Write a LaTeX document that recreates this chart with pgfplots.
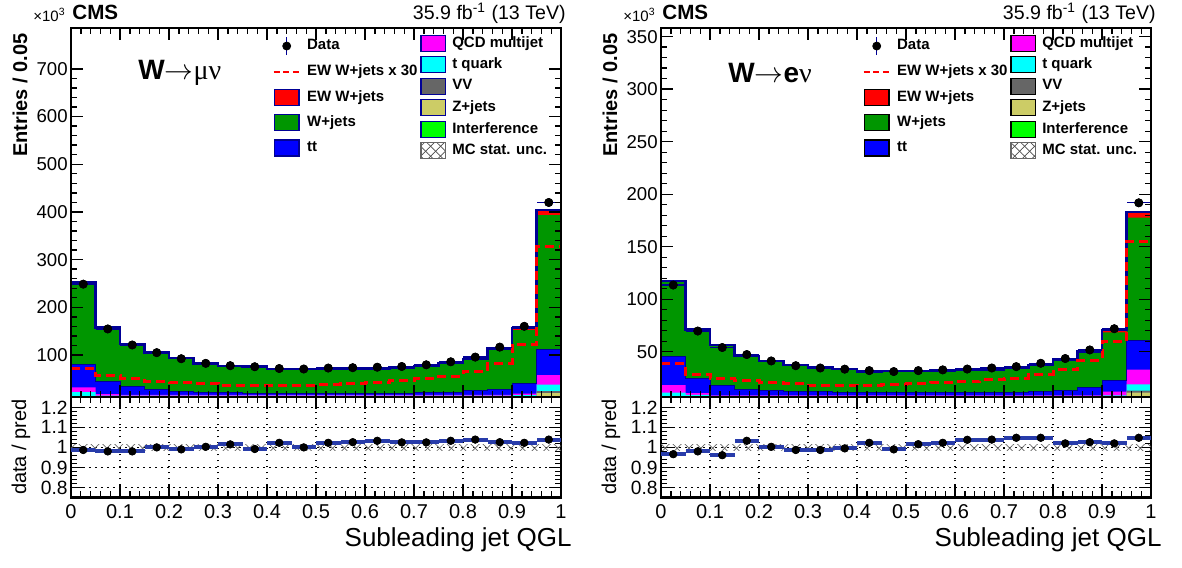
\documentclass[border=0pt]{standalone}
\usepackage{fontspec}
\setmainfont{Liberation Sans}
\newfontfamily\serifsym{Liberation Serif}
\usepackage{pgfplots}
\pgfplotsset{compat=1.18}
\usepackage{pgfplotstable}
\usetikzlibrary{patterns,patterns.meta,calc}

\definecolor{cEW}{RGB}{255,0,0}
\definecolor{cWJ}{RGB}{0,150,0}
\definecolor{cTT}{RGB}{0,0,255}
\definecolor{cQCD}{RGB}{255,0,255}
\definecolor{cTQ}{RGB}{0,255,255}
\definecolor{cVV}{RGB}{102,102,102}
\definecolor{cZJ}{RGB}{204,204,102}
\definecolor{cINT}{RGB}{0,255,0}
\definecolor{navy}{RGB}{0,0,150}
\definecolor{rblue}{RGB}{40,60,170}

% Entries per bin (x 10^3). Columns: low bin edge, Z+jets, VV, t quark, QCD multijet,
% ttbar, W+jets, EW W+jets, data, data/pred.
% The last row repeats the last bin so that the step lines close at x = 1.
\pgfplotstableread{
lo    zj   vv   tq   qcd   tt    wj     ew     data   ratio
0.00  8    2    12   10    49    168.4  2.40   248.5  0.987
0.05  6    2    7    3     26    111.9  1.88   154.6  0.980
0.10  6    2    7    1.5   17.0  88.3   1.70   121.0  0.980
0.15  6    2    7    1.5   11.5  75.4   1.46   104.9  1.000
0.20  6    2    7    1.5   6.5   68.7   1.42   92.2   0.990
0.25  6    2    7    1.5   5.0   59.5   1.35   82.5   1.003
0.30  6    2    7    1.5   4.0   54.8   1.23   77.6   1.015
0.35  6    2    7    1.5   3.5   54.8   1.23   75.4   0.992
0.40  6    2    7    1.5   3.0   49.3   1.21   71.6   1.023
0.45  6    2    7    1.5   3.0   49.9   1.23   70.6   1.000
0.50  6    2    7    1.5   3.0   50.2   1.30   72.6   1.023
0.55  6    2    7    1.5   3.0   50.7   1.35   73.4   1.026
0.60  6    2    7    1.5   3.0   51.1   1.42   74.4   1.033
0.65  6    2    7    1.5   3.5   52.4   1.58   75.9   1.025
0.70  6    2    7    1.5   4.5   54.8   1.70   79.4   1.025
0.75  6    2    7    1.5   5.5   59.2   1.81   85.7   1.033
0.80  6    2    7    1.5   10.0  63.3   2.16   95.6   1.039
0.85  6    2    7    1.5   11.5  82.8   2.75   116.5  1.026
0.90  6    2    8    3     21    112.4  4.08   160.1  1.023
0.95  20   4    14   20    54    281.1  10.9   419.8  1.039
1.00  20   4    14   20    54    281.1  10.9   419.8  1.039
}\tabMu

\pgfplotstableread{
lo    zj   vv   tq   qcd   tt    wj     ew     data   ratio
0.00  4    1.5  5.5  7.3   27.6  70.3   1.30   113.5  0.966
0.05  4    1.5  3.5  1.6   14.1  45.5   0.95   69.7   0.980
0.10  4    1.5  2.5  0.5   9.8   37.1   0.81   54.0   0.961
0.15  4    1.5  2.5  0.5   6.0   30.5   0.76   47.3   1.033
0.20  4    1.5  2.5  0.5   5.0   26.9   0.70   41.2   1.003
0.25  4    1.5  2.5  0.5   3.8   24.3   0.65   36.7   0.987
0.30  4    1.5  2.5  0.5   3.5   22.4   0.61   34.5   0.987
0.35  4    1.5  2.5  0.5   2.5   22.0   0.61   33.4   0.995
0.40  4    1.5  2.5  0.5   2.5   19.7   0.60   32.0   1.023
0.45  4    1.5  2.5  0.5   2.5   19.8   0.64   31.1   0.990
0.50  4    1.5  2.5  0.5   2.5   19.8   0.66   32.0   1.016
0.55  4    1.5  2.5  0.5   2.5   20.3   0.70   32.7   1.023
0.60  4    1.5  2.5  0.5   2.5   20.6   0.71   33.5   1.038
0.65  4    1.5  2.5  0.5   2.5   21.4   0.77   34.5   1.039
0.70  4    1.5  2.5  0.5   2.8   22.1   0.83   35.8   1.048
0.75  4    1.5  2.5  0.5   3.5   24.3   0.95   39.0   1.048
0.80  4    1.5  2.5  0.5   4.3   28.7   1.09   43.5   1.020
0.85  4    1.5  2.5  0.5   7.6   32.9   1.40   51.7   1.026
0.90  4    1.5  3.0  3.4   10.5  46.1   2.00   71.9   1.020
0.95  11   2.0  6.0  14.0  28.0  116.8  5.16   191.8  1.048
1.00  11   2.0  6.0  14.0  28.0  116.8  5.16   191.8  1.048
}\tabE

% cumulative stack heights, bottom to top
\newcommand\cumZJ{\thisrow{zj}}
\newcommand\cumVV{\cumZJ+\thisrow{vv}}
\newcommand\cumTQ{\cumVV+\thisrow{tq}}
\newcommand\cumQCD{\cumTQ+\thisrow{qcd}}
\newcommand\cumTT{\cumQCD+\thisrow{tt}}
\newcommand\cumWJ{\cumTT+\thisrow{wj}}
\newcommand\cumEW{\cumWJ+\thisrow{ew}}

\pgfplotsset{
  cmsframe/.style={
    scale only axis, xmin=0, xmax=1,
    axis line style={line width=1.1pt},
    tick align=inside, tick pos=both,
    major tick length=6pt, minor tick length=3pt,
    tick style={black, line width=0.7pt},
    xtick={0,0.1,0.2,0.3,0.4,0.5,0.6,0.7,0.8,0.9,1},
    minor x tick num=4, minor y tick num=4,
    /pgf/number format/assume math mode=true,
  },
  stackbar/.style={ybar, bar width=0.05, bar shift=0pt, draw=none, fill=#1, forget plot},
  legcol/.style={legend cell align=left,
    legend style={draw=none, fill=none, inner sep=0pt, column sep=3pt, row sep=#1,
      anchor=north west, font=\bfseries\fontsize{7.5}{9}\selectfont,
      nodes={inner sep=0pt}}},
}

% fixed-size cell for every legend symbol
\newcommand\legcell{\path[draw=none, fill=none] (0pt,-4.5pt) rectangle (13pt,4.5pt);}
% legend symbol: filled box
\newcommand\legbox[2]{\addlegendimage{legend image code/.code={%
  \legcell
  \draw[#1, draw=#2, line width=0.7pt] (0.35pt,-4pt) rectangle (12.65pt,4pt);}}}

% upper pad: {table}{left edge}{y options}{legend box edge colour}
\newcommand\toppanel[4]{%
\begin{axis}[cmsframe, axis on top, at={(#2,84.85pt)}, anchor=south west,
  width=245pt, height=184.5pt, xticklabels={},
  yticklabel style={font=\fontsize{9.3}{10}\selectfont, inner sep=1.5pt},
  legcol=3.65pt, legend style={at={(axis description cs:0.41,0.979)}}, #3]
  \addplot[stackbar=cEW]  table[x expr=\thisrow{lo}+0.025, y expr=\cumEW]{#1};
  \addplot[stackbar=cWJ]  table[x expr=\thisrow{lo}+0.025, y expr=\cumWJ]{#1};
  \addplot[stackbar=cTT]  table[x expr=\thisrow{lo}+0.025, y expr=\cumTT]{#1};
  \addplot[stackbar=cQCD] table[x expr=\thisrow{lo}+0.025, y expr=\cumQCD]{#1};
  \addplot[stackbar=cTQ]  table[x expr=\thisrow{lo}+0.025, y expr=\cumTQ]{#1};
  \addplot[stackbar=cVV]  table[x expr=\thisrow{lo}+0.025, y expr=\cumVV]{#1};
  \addplot[stackbar=cZJ]  table[x expr=\thisrow{lo}+0.025, y expr=\cumZJ]{#1};
  \addplot[const plot mark left, navy, line width=0.5pt, forget plot]
    table[x=lo, y expr=\cumTT]{#1};
  \addplot[const plot mark left, navy, line width=1.2pt, forget plot]
    table[x=lo, y expr=\cumEW]{#1};
  \addplot[const plot mark left, cEW, line width=1.5pt, dash pattern=on 4.5pt off 2.5pt, forget plot]
    table[x=lo, y expr=30*\thisrow{ew}]{#1};
  \addplot[only marks, mark=*, mark size=2pt, black, forget plot,
    skip coords between index={20}{21},
    error bars/.cd, x dir=both, x fixed=0.025, error mark=none,
    error bar style={navy, line width=0.6pt}]
    table[x expr=\thisrow{lo}+0.025, y=data]{#1};
  \addplot[only marks, mark=*, mark size=2pt, black, forget plot,
    skip coords between index={20}{21}]
    table[x expr=\thisrow{lo}+0.025, y=data]{#1};
  \addlegendimage{legend image code/.code={%
    \legcell
    \draw[navy, line width=0.6pt] (6.5pt,-4.5pt) -- (6.5pt,4.5pt);
    \fill[black] (6.5pt,0pt) circle (2pt);}}
  \addlegendentry{Data}
  \addlegendimage{legend image code/.code={%
    \legcell
    \draw[cEW, line width=1.4pt, dash pattern=on 3pt off 1.8pt] (0pt,0pt) -- (13pt,0pt);}}
  \addlegendentry{EW W+jets x 30}
  \legbox{fill=cEW}{#4}\addlegendentry{EW W+jets}
  \legbox{fill=cWJ}{#4}\addlegendentry{W+jets}
  \legbox{fill=cTT}{#4}\addlegendentry{tt}
\end{axis}
% second legend column
\begin{axis}[at={(#2,84.85pt)}, anchor=south west, scale only axis,
  width=245pt, height=184.5pt, hide axis, xmin=0, xmax=1, ymin=0, ymax=1,
  legcol=1.75pt, legend style={at={(axis description cs:0.712,0.985)}}]
  \legbox{fill=cQCD}{#4}\addlegendentry{QCD multijet}
  \legbox{fill=cTQ}{#4}\addlegendentry{t quark}
  \legbox{fill=cVV}{#4}\addlegendentry{VV}
  \legbox{fill=cZJ}{#4}\addlegendentry{Z+jets}
  \legbox{fill=cINT}{#4}\addlegendentry{Interference}
  \addlegendimage{legend image code/.code={%
    \legcell
    \fill[pattern={Lines[angle=45, distance=3.5pt, line width=0.35pt]}, pattern color=black!70]
      (0.35pt,-4pt) rectangle (12.65pt,4pt);
    \fill[pattern={Lines[angle=-45, distance=3.5pt, line width=0.35pt]}, pattern color=black!70]
      (0.35pt,-4pt) rectangle (12.65pt,4pt);
    \draw[black!60, line width=0.7pt] (0.35pt,-4pt) rectangle (12.65pt,4pt);}}
  \addlegendentry{MC stat. unc.}
\end{axis}}

% lower pad: {table}{left edge}
\newcommand\ratiopanel[2]{%
\begin{axis}[cmsframe, at={(#2,34.75pt)}, anchor=south west,
  width=245pt, height=50.1pt, ymin=0.75, ymax=1.25,
  ytick={0.8,0.9,1,1.1,1.2}, yticklabels={0.8,0.9,1,1.1,1.2},
  xticklabels={0,0.1,0.2,0.3,0.4,0.5,0.6,0.7,0.8,0.9,1},
  yticklabel style={font=\fontsize{9.6}{10}\selectfont, inner sep=1.5pt},
  xticklabel style={font=\fontsize{10}{11}\selectfont},
  grid=major, major grid style={black, line width=0.6pt, dash pattern=on 0.8pt off 2.2pt}]
  % MC statistical uncertainty band
  \addplot[draw=none, pattern={Lines[angle=45, distance=4.2pt, line width=0.35pt]},
    pattern color=black!60, forget plot]
    coordinates {(0,0.987) (1,0.987) (1,1.013) (0,1.013)};
  \addplot[draw=none, pattern={Lines[angle=-45, distance=4.2pt, line width=0.35pt]},
    pattern color=black!60, forget plot]
    coordinates {(0,0.987) (1,0.987) (1,1.013) (0,1.013)};
  \addplot[only marks, mark=*, mark size=1.8pt, black, forget plot,
    skip coords between index={20}{21},
    error bars/.cd, x dir=both, x fixed=0.025, error mark=none,
    error bar style={rblue, line width=2pt}]
    table[x expr=\thisrow{lo}+0.025, y=ratio]{#1};
  \addplot[only marks, mark=*, mark size=1.8pt, black, forget plot,
    skip coords between index={20}{21}]
    table[x expr=\thisrow{lo}+0.025, y=ratio]{#1};
\end{axis}}

\begin{document}
\begin{tikzpicture}
\useasboundingbox (0,0) rectangle (591pt,283.5pt);

\toppanel{\tabMu}{35.5pt}{ymin=11.3, ymax=785,
  ytick={100,200,300,400,500,600,700},
  yticklabels={100,200,300,400,500,600,700}}{navy}
\ratiopanel{\tabMu}{35.5pt}

\toppanel{\tabE}{330.5pt}{ymin=6.6, ymax=358,
  ytick={50,100,150,200,250,300,350},
  yticklabels={50,100,150,200,250,300,350}}{black}
\ratiopanel{\tabE}{330.5pt}

% titles and axis labels
\foreach \dx/\lab in {0pt/{\bfseries W$\rightarrow${\serifsym\mdseries μν}}, 295pt/{\bfseries W$\rightarrow$e{\serifsym\mdseries ν}}}{
  \node[anchor=base west, inner sep=0pt, font=\bfseries\fontsize{10.3}{12}\selectfont]
    at ($(36pt,273.5pt)+(\dx,0)$) {CMS};
  \node[anchor=base east, inner sep=0pt, font=\fontsize{9.8}{12}\selectfont]
    at ($(283pt,273.5pt)+(\dx,0)$) {35.9 fb\textsuperscript{-1} (13 TeV)};
  \node[anchor=base east, inner sep=0pt, font=\fontsize{7.5}{9}\selectfont]
    at ($(33pt,272.5pt)+(\dx,0)$) {×10\textsuperscript{3}};
  \node[anchor=west, inner sep=0pt, font=\fontsize{14}{16}\selectfont]
    at ($(69pt,247pt)+(\dx,0)$) {\lab};
  \node[rotate=90, anchor=east, inner sep=0pt, font=\bfseries\fontsize{10}{12}\selectfont]
    at ($(10pt,267pt)+(\dx,0)$) {Entries / 0.05};
  \node[rotate=90, inner sep=0pt, font=\fontsize{10}{12}\selectfont]
    at ($(10.5pt,60pt)+(\dx,0)$) {data / pred};
  \node[anchor=east, inner sep=0pt, font=\fontsize{13}{15}\selectfont]
    at ($(286pt,13.5pt)+(\dx,0)$) {Subleading jet QGL};
}
\end{tikzpicture}
\end{document}
